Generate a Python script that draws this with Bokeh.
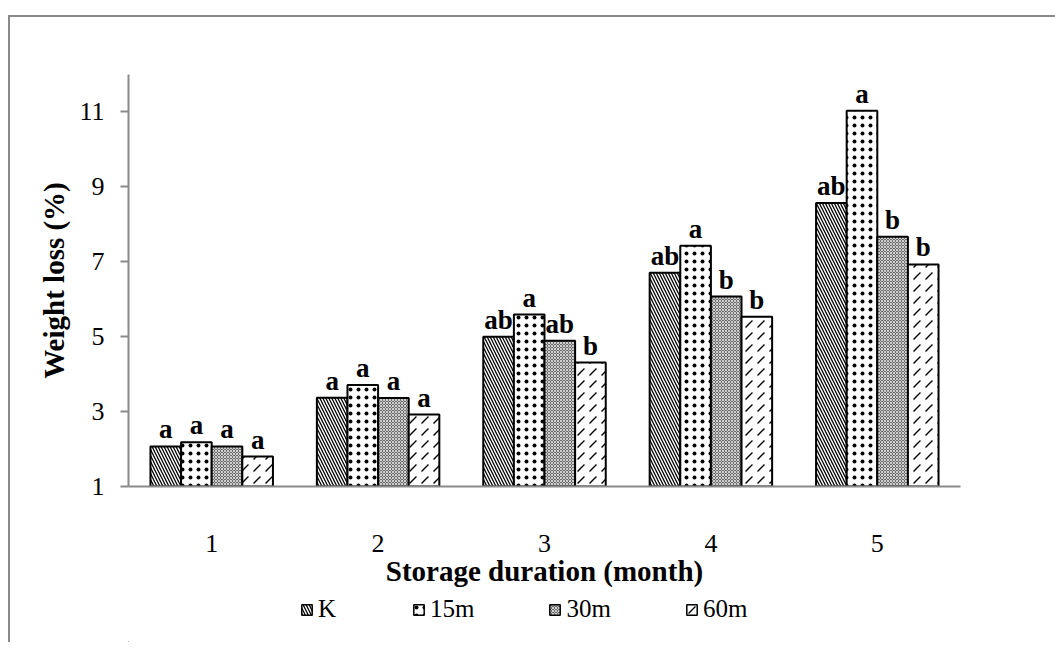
from bokeh.plotting import figure
from bokeh.layouts import column
from bokeh.models import (ColumnDataSource, FactorRange, Range1d, Legend, LegendItem, FixedTicker)
from bokeh.transform import dodge
from bokeh.core.properties import value
from bokeh.embed import file_html
from bokeh.resources import INLINE

months = ["1", "2", "3", "4", "5"]
series_names = ["K", "15m", "30m", "60m"]
k_vals = [2.07, 3.37, 5.00, 6.71, 8.57]
m15_vals = [2.18, 3.71, 5.59, 7.43, 11.03]
m30_vals = [2.07, 3.36, 4.89, 6.07, 7.67]
m60_vals = [1.80, 2.92, 4.31, 5.53, 6.93]
k_letters = ["a", "a", "ab", "ab", "ab"]
m15_letters = ["a", "a", "a", "a", "a"]
m30_letters = ["a", "a", "ab", "b", "b"]
m60_letters = ["a", "a", "b", "b", "b"]
y_ticks = [1, 3, 5, 7, 9, 11]

FONT = "Liberation Serif"
GRAY = "#8a8a8a"

src = ColumnDataSource(dict(month=months, K=k_vals, m15=m15_vals, m30=m30_vals, m60=m60_vals,
                            lK=k_letters, l15=m15_letters, l30=m30_letters, l60=m60_letters))

W = 1045
H_MAIN = 575
p = figure(width=W, height=H_MAIN, x_range=FactorRange(*months, range_padding=0),
           y_range=Range1d(1, 12), output_backend="svg", toolbar_location=None,
           min_border_left=118, min_border_right=95, min_border_top=57, min_border_bottom=106)
p.outline_line_color = None
p.grid.grid_line_color = None
p.background_fill_color = "white"
p.border_fill_color = "white"

bw = 0.184
offsets = [-1.5 * bw, -0.5 * bw, 0.5 * bw, 1.5 * bw]
cols = ["K", "m15", "m30", "m60"]
lcols = ["lK", "l15", "l30", "l60"]
styles = [
    dict(fill_color="white", hatch_pattern="\\", hatch_scale=6, hatch_weight=1.3, hatch_color="black"),
    dict(fill_color="white", hatch_pattern=".", hatch_scale=8, hatch_weight=0.6, hatch_color="black"),
    dict(fill_color="#6e6e6e", hatch_pattern="x", hatch_scale=3, hatch_weight=1.0, hatch_color="#cfcfcf"),
    dict(fill_color="white", hatch_pattern=",", hatch_scale=12, hatch_weight=1.3, hatch_color="black"),
]
for off, c, lc, st in zip(offsets, cols, lcols, styles):
    p.vbar(x=dodge("month", off, range=p.x_range), top=c, bottom=1, width=bw, source=src,
           line_color="black", line_width=2, **st)
    p.text(x=dodge("month", off, range=p.x_range), y=c, text=lc, source=src,
           text_align="center", text_baseline="alphabetic", y_offset=-17,
           text_font=value(FONT), text_font_style="bold", text_font_size="27px", text_color="black")

# axes
p.yaxis.ticker = FixedTicker(ticks=y_ticks)
p.yaxis.axis_line_color = GRAY
p.yaxis.axis_line_width = 2
p.yaxis.major_tick_line_color = GRAY
p.yaxis.major_tick_line_width = 2
p.yaxis.major_tick_in = 0
p.yaxis.major_tick_out = 8
p.yaxis.minor_tick_line_color = None
p.yaxis.major_label_text_font = FONT
p.yaxis.major_label_text_font_size = "26px"
p.yaxis.major_label_text_color = "black"
p.yaxis.major_label_standoff = 16
p.yaxis.axis_label = "Weight loss (%)"
p.yaxis.axis_label_text_font = FONT
p.yaxis.axis_label_text_font_style = "bold"
p.yaxis.axis_label_text_font_size = "29px"
p.yaxis.axis_label_text_color = "black"
p.yaxis.axis_label_standoff = 6

p.xaxis.axis_line_color = GRAY
p.xaxis.axis_line_width = 2
p.xaxis.major_tick_line_color = None
p.xaxis.minor_tick_line_color = None
p.xaxis.major_label_text_font = FONT
p.xaxis.major_label_text_font_size = "26px"
p.xaxis.major_label_text_color = "black"
p.xaxis.major_label_standoff = 42
p.xaxis.axis_label = "Storage duration (month)"
p.xaxis.axis_label_text_font = FONT
p.xaxis.axis_label_text_font_style = "bold"
p.xaxis.axis_label_text_font_size = "29px"
p.xaxis.axis_label_text_color = "black"
p.xaxis.axis_label_standoff = 0

# legend in its own strip below the chart (swatch glyphs sit outside the visible range)
lf = figure(width=W, height=50, x_range=Range1d(0, 1), y_range=Range1d(0, 1),
            output_backend="svg", toolbar_location=None, x_axis_type=None, y_axis_type=None,
            min_border=0)
lf.outline_line_color = None
lf.grid.grid_line_color = None
swatch = ColumnDataSource(dict(x=[-10.0], top=[-10.0]))
leg_renderers = [lf.vbar(x="x", top="top", bottom=-11, width=0.1, source=swatch, line_color="black",
                         line_width=1.5, **st) for st in styles]
legend = Legend(items=[LegendItem(label=n, renderers=[r]) for n, r in zip(series_names, leg_renderers)],
                orientation="horizontal", location=(172, 19),
                glyph_width=13, glyph_height=13, label_standoff=5, spacing=74,
                padding=0, margin=0, border_line_color=None, background_fill_alpha=0,
                label_text_font=FONT, label_text_font_size="25px", label_text_color="black")
lf.add_layout(legend, "center")

layout = column(p, lf, margin=(15, 0, 0, 8),
                styles={"border-top": "2px solid " + GRAY, "border-left": "2px solid " + GRAY})

open("out.html", "w").write(file_html(layout, INLINE))
